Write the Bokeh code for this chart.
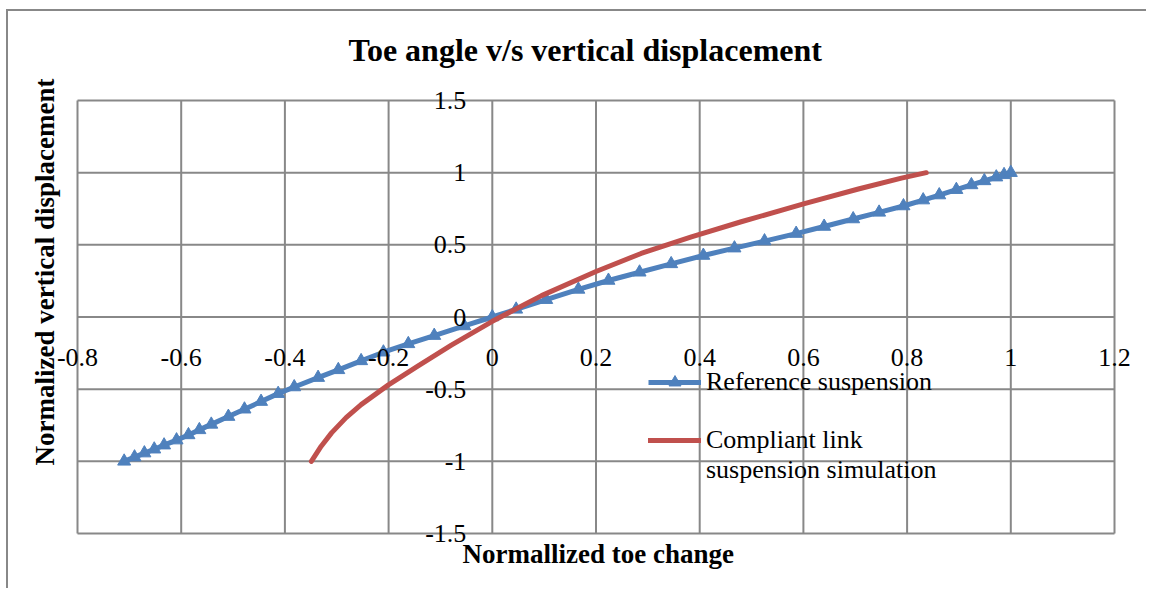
from bokeh.plotting import figure
from bokeh.models import (Range1d, FixedTicker, CustomJSTickFormatter, Title,
                          Legend, LegendItem)
from bokeh.embed import file_html
from bokeh.resources import INLINE

# ---------------- data ----------------
title_text = "Toe angle v/s vertical displacement"
x_title = "Normallized toe change"
y_title = "Normalized vertical displacement"

x_ticks = [-0.8, -0.6, -0.4, -0.2, 0.0, 0.2, 0.4, 0.6, 0.8, 1.0, 1.2]
y_ticks = [-1.5, -1.0, -0.5, 0.0, 0.5, 1.0, 1.5]

ref_name = "Reference suspension"
ref_x = [-0.710, -0.690, -0.671, -0.652, -0.633, -0.609, -0.586, -0.565, -0.542,
         -0.509, -0.478, -0.446, -0.413, -0.382, -0.336, -0.297, -0.253, -0.210,
         -0.162, -0.112, -0.054, 0.0, 0.046, 0.104, 0.166, 0.224, 0.284, 0.345,
         0.407, 0.467, 0.525, 0.586, 0.640, 0.696, 0.746, 0.793, 0.831, 0.862,
         0.895, 0.924, 0.949, 0.972, 0.987, 1.000]
ref_y = [-1.000, -0.971, -0.943, -0.916, -0.888, -0.853, -0.817, -0.782, -0.744,
         -0.690, -0.639, -0.586, -0.531, -0.485, -0.420, -0.366, -0.304, -0.244,
         -0.186, -0.129, -0.062, 0.0, 0.053, 0.120, 0.191, 0.253, 0.310, 0.368,
         0.426, 0.477, 0.526, 0.578, 0.627, 0.679, 0.725, 0.769, 0.810, 0.845,
         0.882, 0.915, 0.943, 0.969, 0.985, 1.000]

comp_name = "Compliant link\nsuspension simulation"
comp_x = [-0.349, -0.330, -0.310, -0.282, -0.253, -0.201, -0.143, -0.079, 0.0,
          0.095, 0.200, 0.287, 0.384, 0.480, 0.602, 0.706, 0.789, 0.837]
comp_y = [-1.0, -0.895, -0.803, -0.697, -0.607, -0.472, -0.339, -0.195, -0.03,
          0.148, 0.315, 0.44, 0.555, 0.66, 0.785, 0.887, 0.962, 1.0]

# ---------------- style ----------------
FONT = "Liberation Serif"
GRID = "#888888"
BLUE = "#4F81BD"
RED = "#C0504D"
PX_X = 518.5      # pixels per x unit
PX_Y = 433 / 3.0  # pixels per y unit
PAD_L, PAD_R, PAD_T, PAD_B = 21, 30, 10, 10   # room for edge tick labels

x0, x1 = x_ticks[0], x_ticks[-1]
y0, y1 = y_ticks[0], y_ticks[-1]

p = figure(frame_width=1088, frame_height=453,
           x_range=Range1d(x0 - PAD_L / PX_X, x1 + PAD_R / PX_X),
           y_range=Range1d(y0 - PAD_B / PX_Y, y1 + PAD_T / PX_Y),
           output_backend="svg", toolbar_location=None,
           min_border_left=48, min_border_right=2,
           min_border_top=79, min_border_bottom=45,
           background_fill_color="white", border_fill_color="white")
p.styles = {"margin-left": "6px", "margin-top": "9px",
            "border-left": f"2px solid {GRID}", "border-top": f"2px solid {GRID}"}
p.outline_line_color = None
p.xgrid.visible = False
p.ygrid.visible = False

p.title = Title(text=title_text, align="left", offset=292, vertical_align="top",
                text_font=FONT, text_font_size="32px", text_font_style="bold",
                text_color="black", standoff=41)
p.add_layout(Title(text=x_title, align="left", offset=406, vertical_align="top",
                   text_font=FONT, text_font_size="27px", text_font_style="bold",
                   text_color="black", standoff=-10), "below")
p.add_layout(Title(text=y_title, align="left", offset=78, vertical_align="bottom",
                   text_font=FONT, text_font_size="27px", text_font_style="bold",
                   text_color="black", standoff=-6), "left")

# grid lines (plot-area box included), built from the tick arrays
p.segment(x0=x_ticks, y0=[y0] * len(x_ticks), x1=x_ticks, y1=[y1] * len(x_ticks),
          line_color=GRID, line_width=2)
p.segment(x0=[x0] * len(y_ticks), y0=y_ticks, x1=[x1] * len(y_ticks), y1=y_ticks,
          line_color=GRID, line_width=2)

fmt = CustomJSTickFormatter(code="return String(Math.round(tick*10)/10);")
for ax, tk in ((p.xaxis[0], x_ticks), (p.yaxis[0], y_ticks)):
    ax.ticker = FixedTicker(ticks=tk)
    ax.formatter = fmt
    ax.fixed_location = 0
    ax.axis_line_color = None
    ax.major_tick_line_color = None
    ax.minor_tick_line_color = None
    ax.major_label_text_font = FONT
    ax.major_label_text_font_size = "26px"
    ax.major_label_text_color = "black"
p.xaxis[0].major_label_standoff = 26
p.yaxis[0].major_label_standoff = 20

r_ref_line = p.line(ref_x, ref_y, line_color=BLUE, line_width=5)
r_ref_pts = p.scatter(ref_x, ref_y, marker="triangle", size=13,
                      fill_color=BLUE, line_color=BLUE)
r_comp = p.line(comp_x, comp_y, line_color=RED, line_width=5,
                line_cap="round", line_join="round")


def make_legend(items, loc):
    lg = Legend(items=items, location=loc)
    lg.border_line_color = None
    lg.background_fill_alpha = 0
    lg.padding = 0
    lg.margin = 0
    lg.spacing = 0
    lg.glyph_width = 53
    lg.glyph_height = 30
    lg.label_height = 30
    lg.label_standoff = 5
    lg.label_text_font = FONT
    lg.label_text_font_size = "26px"
    lg.label_text_color = "black"
    lg.label_text_line_height = 1.15
    return lg


comp_lines = comp_name.split("\n")
p.add_layout(make_legend([LegendItem(label=ref_name,
                                     renderers=[r_ref_line, r_ref_pts])], (592, 146)))
p.add_layout(make_legend([LegendItem(label=comp_lines[0], renderers=[r_comp]),
                          LegendItem(label=comp_lines[1], renderers=[])], (592, 58)))

open("out.html", "w").write(file_html(p, INLINE))
